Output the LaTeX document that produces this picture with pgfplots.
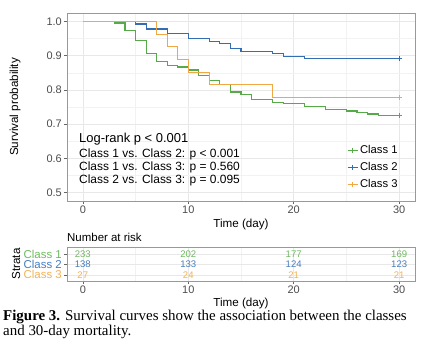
\documentclass[border=0pt]{standalone}
\usepackage{fontspec}
\setmainfont{Liberation Sans}
\newfontfamily\timesfont{Liberation Serif}
\usepackage{pgfplots}
\pgfplotsset{compat=1.18}
\definecolor{cgreen}{RGB}{86,170,72}
\definecolor{cblue}{RGB}{52,110,178}
\definecolor{corange}{RGB}{240,168,68}
\definecolor{tgreen}{RGB}{110,185,95}
\definecolor{tblue}{RGB}{70,125,190}
\definecolor{torange}{RGB}{240,178,90}
\newcommand{\fs}[1]{\fontsize{#1}{#1}\selectfont}
\pgfplotsset{
  km/.style={
    scale only axis, width=348bp,
    xmin=-1.5, xmax=31.5,
    xtick={0,10,20,30}, minor xtick={5,15,25},
    grid=both,
    major grid style={color=black!9, line width=0.5bp},
    minor grid style={color=black!5, line width=0.3bp},
    axis line style={color=black!40, line width=0.6bp},
    tick align=outside, xtick pos=left, ytick pos=left,
    major tick length=3bp, minor tick length=0bp,
    tick style={color=black!60, line width=0.5bp},
    /pgf/number format/assume math mode=true,
    ticklabel style={font=\fs{11}, color=black!70},
    xticklabel style={inner sep=0pt, anchor=north, yshift=-2bp},
    yticklabel style={inner sep=0pt, anchor=east, xshift=-2bp},
  }
}
\begin{document}
\begin{tikzpicture}
\path[use as bounding box] (0,0) rectangle (424bp,-350bp);
\begin{axis}[km, at={(67bp,-13bp)}, anchor=north west, height=188bp,
  ymin=0.475, ymax=1.025,
  ytick={0.5,0.6,0.7,0.8,0.9,1.0},
  minor ytick={0.55,0.65,0.75,0.85,0.95},
  yticklabel style={/pgf/number format/.cd, fixed, fixed zerofill, precision=1},
  legend image code/.code={\draw[mark repeat=2,mark phase=2,#1] plot coordinates {(0bp,0bp) (5bp,0bp) (10bp,0bp)};},
  legend cell align=left,
  legend style={draw=none, fill=none, font=\fs{11.3}, row sep=3.5bp,
    at={(axis description cs:0.965,0.04)}, anchor=south east,
    /tikz/every even column/.append style={column sep=3bp}},
]
\addplot[const plot, color=cgreen, line width=1.1bp, forget plot] coordinates {
(0,1) (3,0.99571) (4,0.97425) (5,0.94421) (6,0.90558) (7,0.88412) (8,0.87124)
(9,0.86695) (10,0.85837) (11,0.84120) (12,0.82833) (13,0.81545) (14,0.79399)
(15,0.78541) (16,0.77253) (18,0.76395) (19,0.75966) (21,0.75107) (23,0.74249)
(25,0.73820) (26,0.73391) (27,0.72961) (28,0.72532) (30,0.72532)};
\addplot[const plot, color=cblue, line width=1.1bp, forget plot] coordinates {
(0,1) (5,0.99275) (6,0.97826) (8,0.96377) (10,0.94928) (12,0.94203) (13,0.93478)
(14,0.92029) (15,0.91304) (18,0.90580) (19,0.89855) (21,0.89130) (30,0.89130)};
\addplot[const plot, color=corange, line width=1.1bp, forget plot] coordinates {
(0,1) (7,0.96296) (8,0.92593) (9,0.88889) (10,0.85185) (12,0.81481) (18,0.77778) (30,0.77778)};
\addplot[only marks, mark=+, mark size=2.5bp, color=cgreen, line width=0.8bp, forget plot] coordinates {(30,0.72532)};
\addplot[only marks, mark=+, mark size=2.5bp, color=cblue, line width=0.8bp, forget plot] coordinates {(30,0.89130)};
\addplot[only marks, mark=+, mark size=2.5bp, color=corange, line width=0.8bp, forget plot] coordinates {(30,0.77778)};
\addlegendimage{color=cgreen, line width=1.1bp, mark=+, mark size=2.5bp}
\addlegendentry{Class 1}
\addlegendimage{color=cblue, line width=1.1bp, mark=+, mark size=2.5bp}
\addlegendentry{Class 2}
\addlegendimage{color=corange, line width=1.1bp, mark=+, mark size=2.5bp}
\addlegendentry{Class 3}
\end{axis}
\node[anchor=west, inner sep=0pt, font=\fs{13}] at (79bp,-139bp) {Log-rank p < 0.001};
\node[anchor=west, inner sep=0pt, font=\fs{12}] at (79bp,-154.5bp) {Class 1 vs. Class 2: p < 0.001};
\node[anchor=west, inner sep=0pt, font=\fs{12}] at (79bp,-167.2bp) {Class 1 vs. Class 3: p = 0.560};
\node[anchor=west, inner sep=0pt, font=\fs{12}] at (79bp,-180bp) {Class 2 vs. Class 3: p = 0.095};
\node[rotate=90, inner sep=0pt, font=\fs{11.7}] at (15bp,-107bp) {Survival probability};
\node[inner sep=0pt, font=\fs{11.7}] at (241bp,-224bp) {Time (day)};
\node[anchor=west, inner sep=0pt, font=\fs{11.5}] at (67bp,-237bp) {Number at risk};
\begin{axis}[km, at={(67bp,-247.7bp)}, anchor=north west, height=33.3bp,
  ymin=0.4, ymax=3.6, ytick={1,2,3},
  yticklabels={\textcolor{torange}{Class 3},\textcolor{tblue}{Class 2},\textcolor{tgreen}{Class 1}},
  yticklabel style={font=\fs{11.5}},
]
\addplot[draw=none, mark=none, nodes near coords, point meta=explicit symbolic,
  every node near coord/.style={anchor=center, inner sep=0pt, font=\fs{9.6}, color=tgreen}]
  coordinates {(0,3) [233] (10,3) [202] (20,3) [177] (30,3) [169]};
\addplot[draw=none, mark=none, nodes near coords, point meta=explicit symbolic,
  every node near coord/.style={anchor=center, inner sep=0pt, font=\fs{9.6}, color=tblue}]
  coordinates {(0,2) [138] (10,2) [133] (20,2) [124] (30,2) [123]};
\addplot[draw=none, mark=none, nodes near coords, point meta=explicit symbolic,
  every node near coord/.style={anchor=center, inner sep=0pt, font=\fs{9.6}, color=torange}]
  coordinates {(0,1) [27] (10,1) [24] (20,1) [21] (30,1) [21]};
\end{axis}
\node[rotate=90, inner sep=0pt, font=\fs{11.7}] at (16bp,-264bp) {Strata};
\node[inner sep=0pt, font=\fs{11.7}] at (241bp,-303bp) {Time (day)};
\node[anchor=base west, inner sep=0pt, font=\timesfont\fs{15}] at (3bp,-320bp)
  {\textbf{Figure 3.} Survival curves show the association between the classes};
\node[anchor=base west, inner sep=0pt, font=\timesfont\fs{15}] at (3bp,-335bp)
  {and 30-day mortality.};
\end{tikzpicture}
\end{document}
